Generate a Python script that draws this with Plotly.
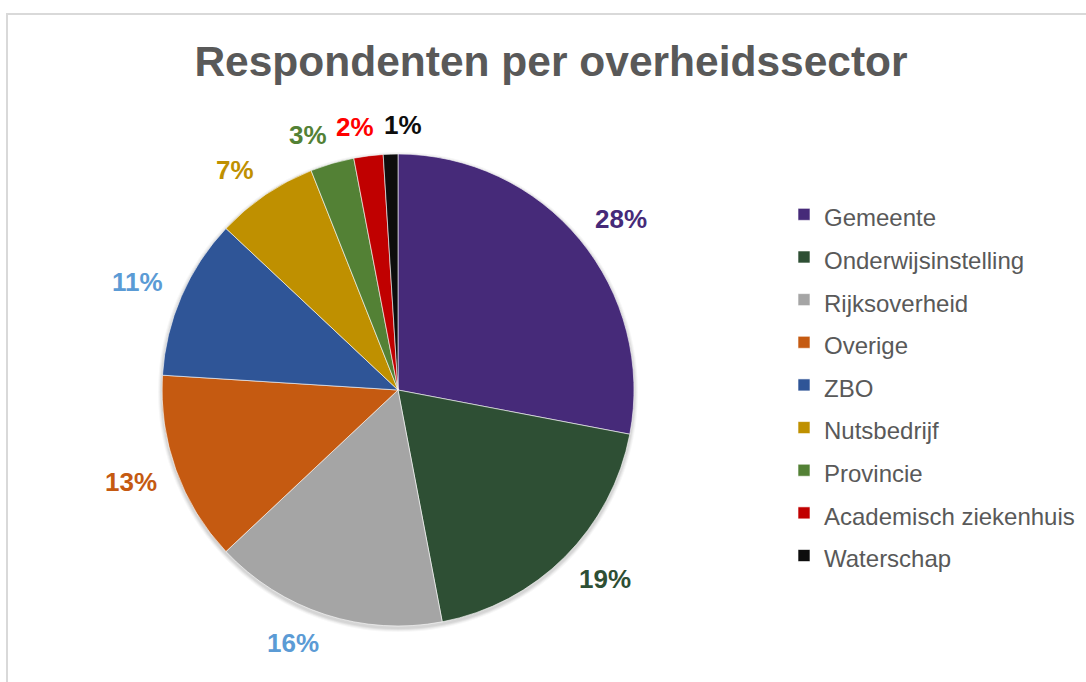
import math
import plotly.graph_objects as go

# ---- data ----
categories = ["Gemeente", "Onderwijsinstelling", "Rijksoverheid", "Overige", "ZBO",
              "Nutsbedrijf", "Provincie", "Academisch ziekenhuis", "Waterschap"]
values = [28, 19, 16, 13, 11, 7, 3, 2, 1]
title_text = "Respondenten per overheidssector"

# ---- styles ----
slice_colors = ["#462A79", "#2E4F34", "#A5A5A5", "#C55A11", "#2F5597",
                "#BF9000", "#538135", "#C00000", "#0D0D0D"]
label_colors = ["#462A79", "#2E4F34", "#5B9BD5", "#C55A11", "#5B9BD5",
                "#BF9000", "#538135", "#FF0000", "#0D0D0D"]
FONT = "Liberation Sans, Arial, sans-serif"
W, H = 1086, 682
cx, cy, R = 398, 390, 236
LABEL_SIZE = 26


def px2x(x):
    return x / W


def px2y(y):
    return 1 - y / H


fig = go.Figure(go.Pie(
    labels=[f'<span style="font-size:24px">{c}</span>' for c in categories],
    values=values, sort=False, direction="clockwise", rotation=0,
    marker=dict(colors=slice_colors, line=dict(color="white", width=0.6)),
    textinfo="none", hovertext=categories, hoverinfo="text+percent",
    domain=dict(x=[px2x(cx - R), px2x(cx + R)], y=[px2y(cy + R), px2y(cy - R)]),
))


# outside percentage labels, positioned from the cumulative values
def text_width(s, size):
    return sum(0.889 if ch == "%" else 0.556 for ch in s) * size


total = sum(values)
cum = 0
placed = []
annotations = []
GAP = 10
for v, col in zip(values, label_colors):
    mid = (cum + v / 2) / total * 2 * math.pi
    cum += v
    txt = f"{round(v / total * 100)}%"
    w = text_width(txt, LABEL_SIZE)
    h = 19
    D = R + 20
    s, c = math.sin(mid), math.cos(mid)
    px = cx + D * s
    py = cy - D * c
    sx = 1 if s >= 0 else -1
    sy = 1 if -c >= 0 else -1
    ccx = px + sx * w / 2
    ccy = py + sy * h / 2 * math.sqrt(abs(c))
    if placed:
        lx0, lx1, ly0, ly1 = placed[-1]
        if (ccy - h / 2) < ly1 and (ccy + h / 2) > ly0 and (ccx + w / 2) > lx0 and (ccx - w / 2) < lx1 + GAP:
            ccx = lx1 + GAP + w / 2
    placed.append((ccx - w / 2, ccx + w / 2, ccy - h / 2, ccy + h / 2))
    annotations.append(dict(
        x=px2x(ccx), y=px2y(ccy), xref="paper", yref="paper",
        xanchor="center", yanchor="middle", showarrow=False, text=txt,
        font=dict(family=FONT, size=LABEL_SIZE, color=col, weight="bold"),
    ))

# soft shadow behind the pie
shapes = []
for i, a in enumerate([0.05, 0.05, 0.04, 0.03]):
    rr = R + 1 + i
    oy = 2
    shapes.append(dict(type="circle", xref="paper", yref="paper",
                       x0=px2x(cx - rr), x1=px2x(cx + rr),
                       y0=px2y(cy + oy + rr), y1=px2y(cy + oy - rr),
                       line=dict(width=0), fillcolor=f"rgba(0,0,0,{a})", layer="below"))
# chart area frame
shapes.append(dict(type="rect", xref="paper", yref="paper",
                   x0=px2x(7), x1=1.2, y0=-0.2, y1=px2y(14),
                   line=dict(color="#D9D9D9", width=2), fillcolor="rgba(0,0,0,0)", layer="below"))

fig.update_layout(
    width=W, height=H,
    margin=dict(l=0, r=0, t=0, b=0),
    paper_bgcolor="white", plot_bgcolor="white",
    title=dict(text=title_text, x=px2x(551), xanchor="center", y=px2y(61), yanchor="middle",
               yref="container", xref="container",
               font=dict(family=FONT, size=42.5, color="#595959", weight="bold")),
    showlegend=True,
    legend=dict(x=px2x(784), xanchor="left", y=px2y(188), yanchor="top",
                font=dict(family=FONT, size=30.5, color="#595959"),
                bgcolor="rgba(0,0,0,0)", borderwidth=0, traceorder="normal"),
    annotations=annotations,
    shapes=shapes,
)

fig.write_html("out.html", config={"displayModeBar": False},
               post_script="document.body.style.margin='0px';")
